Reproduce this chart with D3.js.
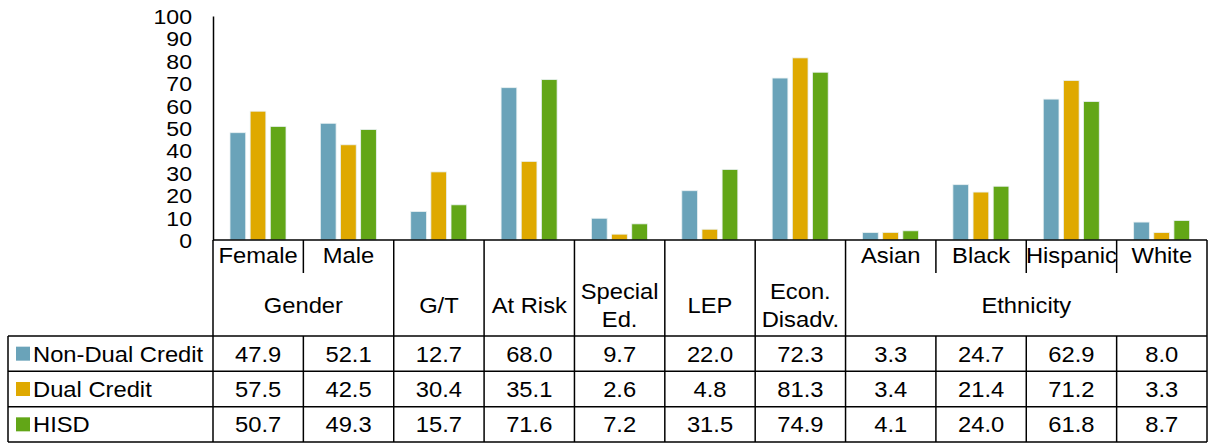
<!DOCTYPE html>
<html>
<head>
<meta charset="utf-8">
<script src="https://cdn.jsdelivr.net/npm/d3@7"></script>
<style>
  body { margin: 0; background: #fff; }
  text { font-family: "Liberation Sans", Arial, sans-serif; fill: #000; }
</style>
</head>
<body>
<div id="container"></div>
<script>
const categories = ["Female", "Male", "G/T", "At Risk", "Special Ed.", "LEP", "Econ. Disadv.", "Asian", "Black", "Hispanic", "White"];
const groups = ["Gender", "Gender", "G/T", "At Risk", "Special\nEd.", "LEP", "Econ.\nDisadv.", "Ethnicity", "Ethnicity", "Ethnicity", "Ethnicity"];
const seriesNames = ["Non-Dual Credit", "Dual Credit", "HISD"];
const nonDual = [47.9, 52.1, 12.7, 68.0, 9.7, 22.0, 72.3, 3.3, 24.7, 62.9, 8.0];
const dualCredit = [57.5, 42.5, 30.4, 35.1, 2.6, 4.8, 81.3, 3.4, 21.4, 71.2, 3.3];
const hisd = [50.7, 49.3, 15.7, 71.6, 7.2, 31.5, 74.9, 4.1, 24.0, 61.8, 8.7];
const yTicks = [0, 10, 20, 30, 40, 50, 60, 70, 80, 90, 100];
const colors = ["#6aa3b9", "#dfa900", "#62a617"];

const seriesValues = [nonDual, dualCredit, hisd];
const W = 1208, H = 443;
const left = 213, right = 1207;
const plotTop = 16, base = 240;
const subRowBottom = 273, headBottom = 336, tableBottom = 442;
const fs = 22, stretch = 1.08;

const svg = d3.select("#container").append("svg")
    .attr("width", W)
    .attr("height", H);

const x0 = d3.scaleBand().domain(d3.range(categories.length)).range([left, right]);
const colW = x0.bandwidth();
const x1 = d3.scaleBand().domain(d3.range(seriesNames.length)).range([17, 73]).paddingInner(0.22);
const y = d3.scaleLinear().domain([0, 100]).range([base, plotTop]);
const rowY = d3.scaleBand().domain(d3.range(seriesNames.length)).range([headBottom, tableBottom]);

function addText(g, str, cx, cy, anchor) {
    return g.append("text")
        .attr("transform", `translate(${cx},${cy}) scale(${stretch},1)`)
        .attr("dy", "0.36em")
        .attr("text-anchor", anchor || "middle")
        .style("font-size", fs + "px")
        .text(str);
}

// y axis
const yAxis = svg.append("g")
    .attr("transform", `translate(${left},0)`)
    .call(d3.axisLeft(y).tickValues(yTicks).tickSize(0).tickFormat(d3.format("d")));
yAxis.select(".domain").attr("stroke", "#000").attr("stroke-width", 1.5);
yAxis.selectAll(".tick text")
    .attr("x", null)
    .attr("dy", "0.36em")
    .attr("transform", "translate(-21,0) scale(1.1,1)")
    .style("font-size", "21px")
    .style("font-family", "'Liberation Sans', Arial, sans-serif")
    .attr("fill", "#000");

// bars
const barData = [];
categories.forEach((c, i) => seriesValues.forEach((vals, s) => barData.push({ i, s, v: vals[i] })));
svg.append("g")
    .selectAll("rect")
    .data(barData)
    .enter().append("rect")
    .attr("x", d => x0(d.i) + x1(d.s))
    .attr("y", d => y(d.v))
    .attr("width", x1.bandwidth())
    .attr("height", d => base - y(d.v))
    .attr("fill", d => colors[d.s])
    .attr("stroke", "#e9f1f2")
    .attr("stroke-width", 0.8);

const table = svg.append("g");

// sub-category labels (only for groups with several columns)
categories.forEach((c, i) => {
    const n = groups.filter(g => g === groups[i]).length;
    if (n > 1) addText(table, c, x0(i) + colW / 2, 255);
});

// group labels
const seen = new Set();
groups.forEach((g, i) => {
    if (seen.has(g)) return;
    seen.add(g);
    const idx = groups.map((d, j) => d === g ? j : -1).filter(j => j >= 0);
    const cx = (x0(idx[0]) + x0(idx[idx.length - 1]) + colW) / 2;
    const lines = g.split("\n");
    lines.forEach((ln, k) => addText(table, ln, cx, 305 + (k - (lines.length - 1) / 2) * 28));
});

// values and legend
seriesNames.forEach((name, s) => {
    const cy = rowY(s) + rowY.bandwidth() / 2;
    table.append("rect")
        .attr("x", 16).attr("y", cy - 7)
        .attr("width", 14).attr("height", 14)
        .attr("fill", colors[s]);
    addText(table, name, 33, cy, "start");
    seriesValues[s].forEach((v, i) => addText(table, v.toFixed(1), x0(i) + colW / 2, cy));
});

// grid lines
const lines = svg.append("g").attr("stroke", "#000").attr("stroke-width", 1.5);
function hline(x1_, x2_, yy) { lines.append("line").attr("x1", x1_).attr("x2", x2_).attr("y1", yy).attr("y2", yy); }
function vline(xx, y1_, y2_) { lines.append("line").attr("x1", xx).attr("x2", xx).attr("y1", y1_).attr("y2", y2_); }

hline(left, right, base);
hline(8, right, headBottom);
seriesNames.forEach((n, s) => hline(8, right, rowY(s) + rowY.bandwidth()));
vline(8, headBottom, tableBottom);
vline(left, base, tableBottom);
vline(right, base, tableBottom);
for (let i = 1; i < categories.length; i++) {
    const xx = x0(i);
    if (groups[i] !== groups[i - 1]) {
        vline(xx, base, tableBottom);
    } else {
        vline(xx, base, subRowBottom);
        vline(xx, headBottom, tableBottom);
    }
}
</script>
</body>
</html>
